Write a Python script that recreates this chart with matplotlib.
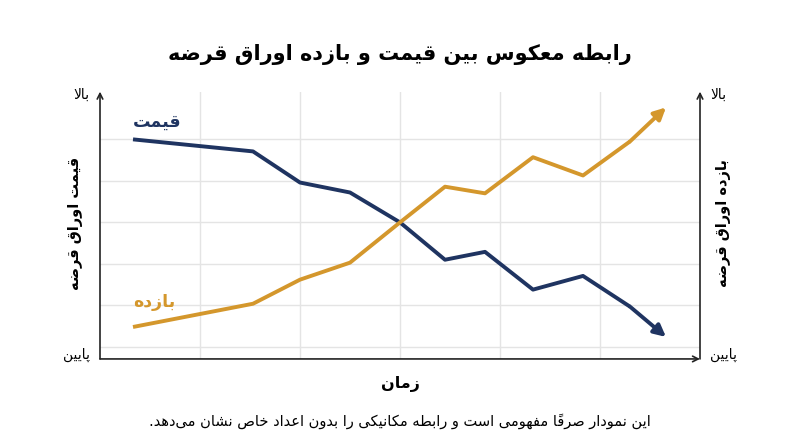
import matplotlib
matplotlib.use("Agg")
import matplotlib.pyplot as plt

# chart values (conceptual)
time_x = [0.33, 1.53, 2.0, 2.5, 3.0, 3.45, 3.85, 4.33, 4.83, 5.3, 5.66]
price = [6.0, 5.71, 4.96, 4.72, 4.0, 3.10, 3.29, 2.38, 2.71, 1.97, 1.24]
yld = [1.48, 2.04, 2.62, 3.03, 4.0, 4.86, 4.70, 5.57, 5.13, 5.95, 6.77]

title = "رابطه معکوس بین قیمت و بازده اوراق قرضه"
left_label = "قیمت اوراق قرضه"
right_label = "بازده اوراق قرضه"
price_name = "قیمت"
yield_name = "بازده"
high_txt = "بالا"
low_txt = "پایین"
x_label = "زمان"
note = "این نمودار صرفاً مفهومی است و رابطه مکانیکی را بدون اعداد خاص نشان می‌دهد."

NAVY = "#1f3461"
GOLD = "#d4972c"

# --- tiny persian shaper (matplotlib has no arabic shaping) ---
FORMS = {
    "ا": (0xFE8D, 0xFE8E, None, None),
    "ب": (0xFE8F, 0xFE90, 0xFE91, 0xFE92),
    "پ": (0xFB56, 0xFB57, 0xFB58, 0xFB59),
    "ت": (0xFE95, 0xFE96, 0xFE97, 0xFE98),
    "خ": (0xFEA5, 0xFEA6, 0xFEA7, 0xFEA8),
    "د": (0xFEA9, 0xFEAA, None, None),
    "ر": (0xFEAD, 0xFEAE, None, None),
    "ز": (0xFEAF, 0xFEB0, None, None),
    "س": (0xFEB1, 0xFEB2, 0xFEB3, 0xFEB4),
    "ش": (0xFEB5, 0xFEB6, 0xFEB7, 0xFEB8),
    "ص": (0xFEB9, 0xFEBA, 0xFEBB, 0xFEBC),
    "ض": (0xFEBD, 0xFEBE, 0xFEBF, 0xFEC0),
    "ط": (0xFEC1, 0xFEC2, 0xFEC3, 0xFEC4),
    "ع": (0xFEC9, 0xFECA, 0xFECB, 0xFECC),
    "ف": (0xFED1, 0xFED2, 0xFED3, 0xFED4),
    "ق": (0xFED5, 0xFED6, 0xFED7, 0xFED8),
    "ک": (0xFB8E, 0xFB8F, 0xFB90, 0xFB91),
    "ل": (0xFEDD, 0xFEDE, 0xFEDF, 0xFEE0),
    "م": (0xFEE1, 0xFEE2, 0xFEE3, 0xFEE4),
    "ن": (0xFEE5, 0xFEE6, 0xFEE7, 0xFEE8),
    "ه": (0xFEE9, 0xFEEA, 0xFEEB, 0xFEEC),
    "و": (0xFEED, 0xFEEE, None, None),
    "ی": (0xFBFC, 0xFBFD, 0xFBFE, 0xFBFF),
}
MARKS = {"\u064b"}


def is_dual(c):
    return c in FORMS and FORMS[c][2] is not None


def fa(text):
    chars = list(text)
    n = len(chars)
    clusters = []
    i = 0
    while i < n:
        c = chars[i]
        if c == "\u200c":
            i += 1
            continue
        if c in MARKS:
            if clusters:
                clusters[-1] += c
            i += 1
            continue
        # neighbours, skipping marks
        j = i - 1
        while j >= 0 and chars[j] in MARKS:
            j -= 1
        prev = chars[j] if j >= 0 else ""
        k = i + 1
        while k < n and chars[k] in MARKS:
            k += 1
        nxt = chars[k] if k < n else ""
        if c not in FORMS:
            clusters.append(c)
            i += 1
            continue
        join_prev = is_dual(prev)
        if c == "ل" and nxt == "ا":
            clusters.append(chr(0xFEFC if join_prev else 0xFEFB))
            i = k + 1
            continue
        join_next = is_dual(c) and nxt in FORMS
        iso, fin, ini, med = FORMS[c]
        if join_prev and join_next:
            g = med
        elif join_prev:
            g = fin
        elif join_next:
            g = ini
        else:
            g = iso
        clusters.append(chr(g))
        i += 1
    return "".join(reversed(clusters))


plt.rcParams["font.family"] = ["DejaVu Sans"]

fig = plt.figure(figsize=(8, 4.47), dpi=100)
ax = fig.add_axes([0.125, 0.197, 0.75, 0.598])
ax.set_xlim(0, 6)
ax.set_ylim(0.71, 7.15)

for s in ax.spines.values():
    s.set_visible(False)
ax.set_xticks([1, 2, 3, 4, 5])
ax.set_yticks([1, 2, 3, 4, 5, 6])
ax.tick_params(length=0, labelbottom=False, labelleft=False)
ax.grid(True, color="#e4e4e4", lw=1)

# axis arrows
arr = dict(arrowstyle="->", color="#222222", lw=1.2, shrinkA=0, shrinkB=0)
ax.annotate("", xy=(0, 1.0), xytext=(0, 0), xycoords="axes fraction", arrowprops=arr)
ax.annotate("", xy=(1, 0), xytext=(0, 0), xycoords="axes fraction", arrowprops=arr)
ax.annotate("", xy=(1, 1.0), xytext=(1, 0), xycoords="axes fraction", arrowprops=arr)

# series
for ys, col in [(price, NAVY), (yld, GOLD)]:
    ax.plot(time_x[:-1], ys[:-1], color=col, lw=2.8, solid_capstyle="butt", zorder=3)
    ax.annotate("", xy=(time_x[-1], ys[-1]), xytext=(time_x[-2], ys[-2]),
                arrowprops=dict(arrowstyle="-|>,head_length=0.7,head_width=0.35",
                                color=col, lw=2.8, shrinkA=0, shrinkB=0), zorder=3)

ax.text(time_x[0], 6.42, fa(price_name), color=NAVY, fontsize=12.5, fontweight="bold",
        ha="left", va="center")
ax.text(time_x[0], 2.08, fa(yield_name), color=GOLD, fontsize=12.5, fontweight="bold",
        ha="left", va="center")

for xa, ha in [(-0.017, "right"), (1.017, "left")]:
    ax.text(xa, 0.99, fa(high_txt), transform=ax.transAxes, fontsize=10, ha=ha, va="center")
    ax.text(xa, 0.015, fa(low_txt), transform=ax.transAxes, fontsize=10, ha=ha, va="center")

fig.text(0.094, 0.5, fa(left_label), rotation=90, fontsize=10.5, fontweight="bold",
         ha="center", va="center")
fig.text(0.904, 0.5, fa(right_label), rotation=90, fontsize=10.5, fontweight="bold",
         ha="center", va="center")

fig.text(0.5, 0.877, fa(title), fontsize=15, fontweight="bold", ha="center", va="center")
fig.text(0.5, 0.141, fa(x_label), fontsize=11.5, fontweight="bold", ha="center", va="center")
fig.text(0.5, 0.058, fa(note), fontsize=10.5, ha="center", va="center")

fig.savefig("out.png", dpi=100)
